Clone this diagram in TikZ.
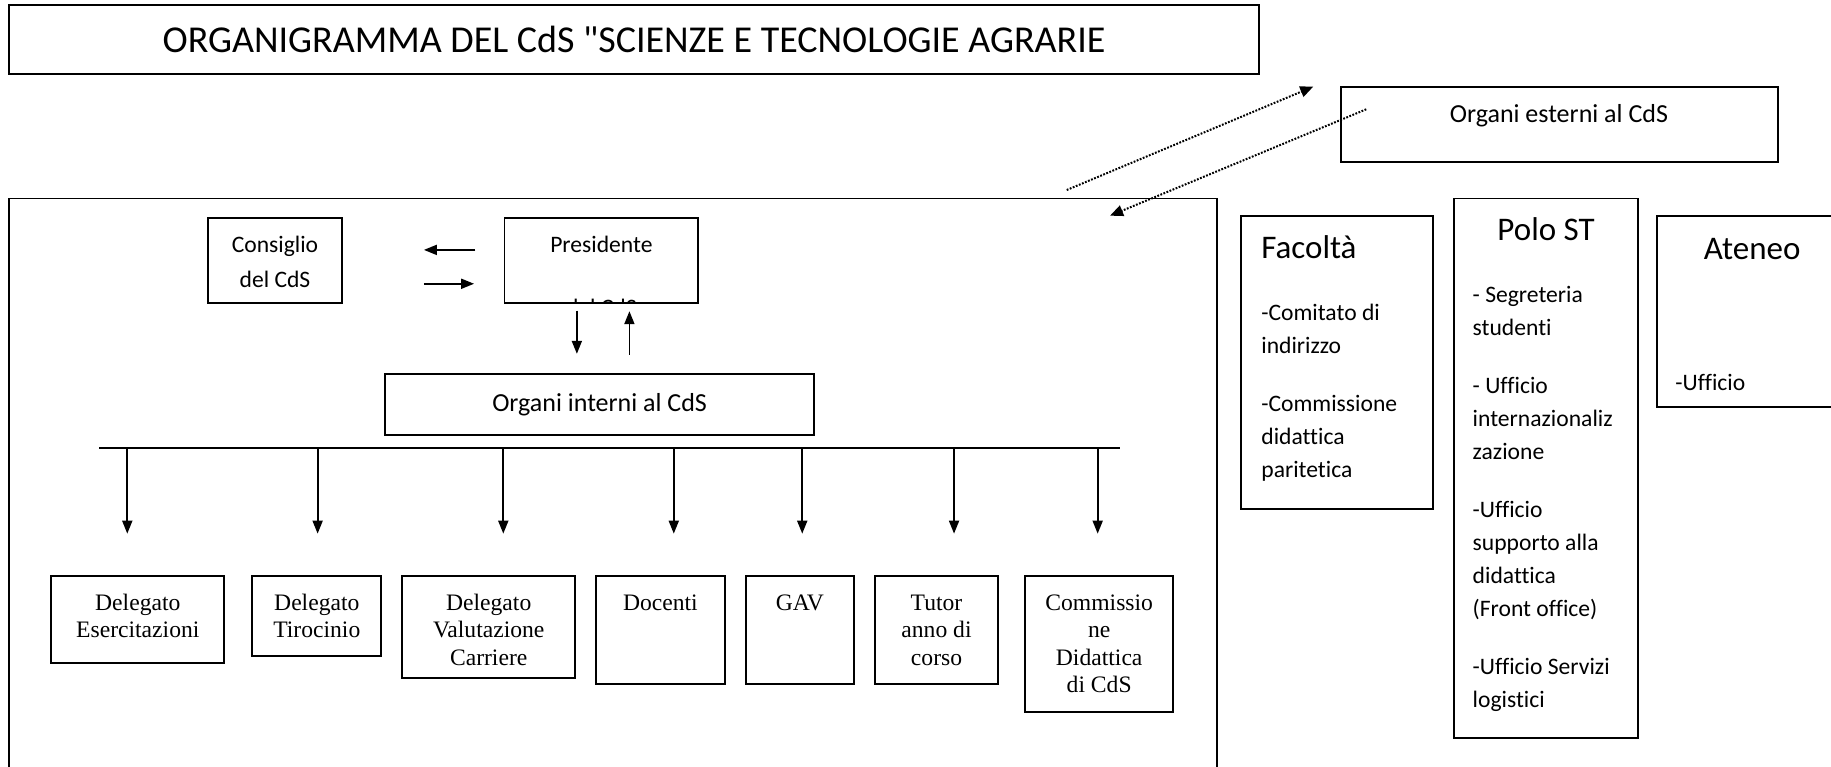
\documentclass[tikz,border=0pt]{standalone}
\usepackage{fontspec}
\setmainfont{Carlito}[Ligatures={TeXOff,NoCommon}]
\newfontfamily\tnr{Liberation Serif}[Ligatures={TeXOff,NoCommon}]
\usetikzlibrary{arrows.meta,fit}
\begin{document}
\begin{tikzpicture}[x=1.1677pt,y=-1.1677pt,
  box/.style={draw,line width=1.9pt,inner sep=0pt},
  cal/.style={inner sep=0pt,font=\fontsize{23.6}{28}\selectfont},
  big/.style={inner sep=0pt,font=\fontsize{26}{30}\selectfont},
  head/.style={inner sep=0pt,font=\fontsize{33}{38}\selectfont},
  tnr/.style={inner sep=0pt,font=\tnr\fontsize{23.6}{27}\selectfont},
  arr/.style={line width=1.8pt,-{Triangle[length=13pt,width=10pt]}},
  dotarrow/.style={line width=2pt,dash pattern=on 1.8pt off 1.5pt,-{Triangle[length=13pt,width=11pt]}}
]
\useasboundingbox (0,0) rectangle (1568,656);
\clip (0,0) rectangle (1568,656);

% title
\node[box,fit={(8,4) (1078,63)}] (title) {};
\node[inner sep=0pt,font=\fontsize{38}{42}\selectfont,anchor=base] (titletxt) at (543,45) {ORGANIGRAMMA DEL CdS "SCIENZE E TECNOLOGIE AGRARIE};

% external organs
\node[box,fit={(1148,74.2) (1522.6,138.5)}] (est) {};
\node[big,anchor=base] (esttxt) at (1335,104.5) {Organi esterni al CdS};

% main frame
\node[box,fit={(8,170) (1042,720)}] (main) {};

% dotted arrows
\coordinate (d1s) at (913.5,162.7);
\coordinate (d1e) at (1124.6,74.2);
\coordinate (d2s) at (1170,93.6);
\coordinate (d2e) at (950.6,184.7);
\draw[dotarrow] (d1s) -- (d1e);
\draw[dotarrow] (d2s) -- (d2e);

% Consiglio
\node[box,fit={(178,186.8) (293,259.8)}] (cons) {};
\node[cal,anchor=base] (cons1) at (235.5,216) {Consiglio};
\node[cal,anchor=base] (cons2) at (235.5,246) {del CdS};

% Presidente
\begin{scope}
\clip (432,186.8) rectangle (598,259.8);
\node[cal,anchor=base] (pres2) at (515,270) {del CdS};
\end{scope}
\node[box,fit={(432,186.8) (598,259.8)}] (pres) {};
\node[cal,anchor=base] (pres1) at (515,216.5) {Presidente};

% arrows Consiglio <-> Presidente
\coordinate (a1s) at (407,214);
\coordinate (a1e) at (363,214);
\coordinate (a2s) at (363,243);
\coordinate (a2e) at (406,243);
\draw[arr] (a1s) -- (a1e);
\draw[arr] (a2s) -- (a2e);

% arrows Presidente <-> Organi interni
\coordinate (a3s) at (494,266);
\coordinate (a3e) at (494,303);
\coordinate (a4s) at (539,304);
\coordinate (a4e) at (539,266.5);
\draw[arr] (a3s) -- (a3e);
\draw[arr] (a4s) -- (a4e);

% Organi interni
\node[box,fit={(330,320) (697,372.5)}] (int) {};
\node[big,anchor=base] (inttxt) at (513.5,352) {Organi interni al CdS};

% horizontal bar
\coordinate (barL) at (85,383.7);
\coordinate (barR) at (959,383.7);
\draw[line width=1.8pt] (barL) -- (barR);

\foreach \xx [count=\i] in {109,272,431,577,687,817,940}{
  \coordinate (ds\i) at (\xx,383.7);
  \coordinate (de\i) at (\xx,457);
  \draw[arr] (ds\i) -- (de\i);
}

% bottom boxes
\node[box,fit={(44,493) (192,567.5)}] (bEs) {};
\node[box,fit={(216,493) (326.5,562)}] (bTi) {};
\node[box,fit={(344.5,493) (492.5,580.7)}] (bVa) {};
\node[box,fit={(510,493) (621,585.8)}] (bDo) {};
\node[box,fit={(639,493) (731,585.8)}] (bGa) {};
\node[box,fit={(749,493) (855,585.8)}] (bTu) {};
\node[box,fit={(878,493) (1004.6,609.8)}] (bCo) {};

\node[tnr,anchor=base] (tEs1) at (118,522.7) {Delegato};
\node[tnr,anchor=base] (tEs2) at (118,546.2) {Esercitazioni};
\node[tnr,anchor=base] (tTi1) at (271.3,522.7) {Delegato};
\node[tnr,anchor=base] (tTi2) at (271.3,546.2) {Tirocinio};
\node[tnr,anchor=base] (tVa1) at (418.5,522.7) {Delegato};
\node[tnr,anchor=base] (tVa2) at (418.5,546.2) {Valutazione};
\node[tnr,anchor=base] (tVa3) at (418.5,569.7) {Carriere};
\node[tnr,anchor=base] (tDo1) at (565.5,522.7) {Docenti};
\node[tnr,anchor=base] (tGa1) at (685,522.7) {GAV};
\node[tnr,anchor=base] (tTu1) at (802,522.7) {Tutor};
\node[tnr,anchor=base] (tTu2) at (802,546.2) {anno di};
\node[tnr,anchor=base] (tTu3) at (802,569.7) {corso};
\node[tnr,anchor=base] (tCo1) at (941.3,522.7) {Commissio};
\node[tnr,anchor=base] (tCo2) at (941.3,546.2) {ne};
\node[tnr,anchor=base] (tCo3) at (941.3,569.7) {Didattica};
\node[tnr,anchor=base] (tCo4) at (941.3,593.2) {di CdS};

% Facolta
\node[box,fit={(1063,185) (1227,436)}] (fac) {};
\node[head,anchor=base west] (fach) at (1080,221) {Facoltà};
\foreach \txt/\yb [count=\i] in {{-Comitato di}/274.5,{indirizzo}/302.8,{-Commissione}/352.5,{didattica}/380.8,{paritetica}/409}
  \node[cal,anchor=base west] (fac\i) at (1080,\yb) {\txt};

% Polo ST
\node[box,fit={(1245,170) (1403,632)}] (polo) {};
\node[head,anchor=base] (poloh) at (1324,206) {Polo ST};
\foreach \txt/\yb [count=\i] in {{- Segreteria}/259.1,{studenti}/287.4,{- Ufficio}/337.1,{internazionaliz}/365.4,{zazione}/393.6,{-Ufficio}/443.3,{supporto alla}/471.6,{didattica}/499.8,{(Front office)}/528.1,{-Ufficio Servizi}/577.8,{logistici}/606.1}
  \node[cal,anchor=base west] (polo\i) at (1261,\yb) {\txt};

% Ateneo
\node[box,fit={(1419,185) (1620,348.7)}] (aten) {};
\node[head,anchor=base] (atenh) at (1500.5,222) {Ateneo};
\node[cal,anchor=base west] (aten1) at (1434.6,334.5) {-Ufficio};
\end{tikzpicture}
\end{document}
